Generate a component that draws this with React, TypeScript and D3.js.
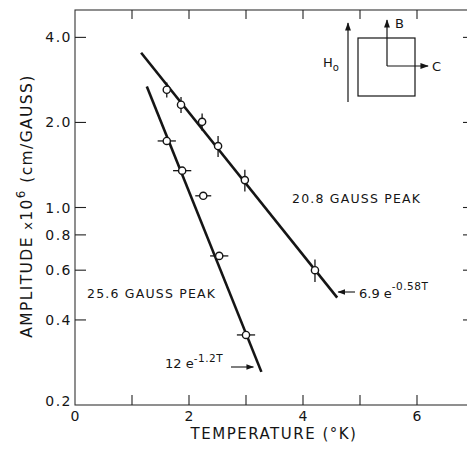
import React from 'react'
import * as d3 from 'd3'

// 20.8 gauss peak: temperature (K), amplitude, vertical error
const peak208T = [1.61, 1.86, 2.23, 2.51, 2.98, 4.21]
const peak208Amp = [2.61, 2.31, 2.01, 1.65, 1.25, 0.60]
const peak208Err = [0.16, 0.15, 0.14, 0.14, 0.11, 0.055]

// 25.6 gauss peak: temperature (K), amplitude, horizontal error (K)
const peak256T = [1.61, 1.88, 2.25, 2.53, 3.0]
const peak256Amp = [1.72, 1.35, 1.10, 0.674, 0.354]
const peak256ErrT = [0.16, 0.16, 0.14, 0.16, 0.16]

// drawn fit lines (end points)
const fit208 = [{t: 1.16, a: 3.53}, {t: 4.6, a: 0.48}]
const fit256 = [{t: 1.26, a: 2.68}, {t: 3.27, a: 0.262}]

const xTicks = [0, 2, 4, 6]
const xMinorTicks = [1, 2, 3, 4, 5, 6]
const yTicks = [4.0, 2.0, 1.0, 0.8, 0.6, 0.4]
const yTickLabels = ['4.0', '2.0', '1.0', '0.8', '0.6', '0.4', '0.2']
const yLabelValues = [4.0, 2.0, 1.0, 0.8, 0.6, 0.4, 0.2]

const layout = {width: 467, height: 449, left: 75, right: 474, top: 10, bottom: 405}
const ink = '#151515'
const font = 'DejaVu Sans, Liberation Sans, sans-serif'

export default function App() {
  const x = d3.scaleLinear().domain([0, 7]).range([layout.left, layout.right])
  const y = d3.scaleLog().domain([0.2, 5.0]).range([layout.bottom, layout.top])

  const fitLine = d3.line<{t: number, a: number}>().x(d => x(d.t)).y(d => y(d.a))

  const r = 3.6

  return (
    <svg width={layout.width} height={layout.height}
      style={{position: 'absolute', left: 0, top: 0, background: '#fff'}}
      fontFamily={font} fill={ink}>
      {/* frame */}
      <rect x={layout.left} y={layout.top} width={layout.right - layout.left}
        height={layout.bottom - layout.top} fill="none" stroke="#333" strokeWidth={1.1} />

      {/* x ticks, bottom and top */}
      {xMinorTicks.map(t => (
        <g key={'xt' + t} stroke="#222" strokeWidth={1.1}>
          <line x1={x(t)} x2={x(t)} y1={layout.bottom} y2={layout.bottom - 10} />
          <line x1={x(t)} x2={x(t)} y1={layout.top} y2={layout.top + 9} />
        </g>
      ))}
      {xTicks.map(t => (
        <text key={'xl' + t} x={x(t)} y={layout.bottom + 16} fontSize={14}
          textAnchor="middle">{t}</text>
      ))}

      {/* y ticks, left and right */}
      {yTicks.map(v => (
        <g key={'yt' + v} stroke="#222" strokeWidth={1.1}>
          <line x1={layout.left} x2={layout.left + 11} y1={y(v)} y2={y(v)} />
          <line x1={layout.right} x2={layout.right - 11} y1={y(v)} y2={y(v)} />
        </g>
      ))}
      {yLabelValues.map((v, i) => (
        <text key={'yl' + v} x={layout.left - 3} y={y(v) - (i === 6 ? 4 : 0)} dy="0.36em"
          fontSize={14} textAnchor="end" letterSpacing={1.5}>{yTickLabels[i]}</text>
      ))}

      {/* axis titles */}
      <text x={274} y={439} fontSize={15} textAnchor="middle" letterSpacing={1.5}>
        TEMPERATURE (°K)
      </text>
      <text transform="translate(32,206) rotate(-90)" fontSize={15.5} textAnchor="middle"
        letterSpacing={1.4}>
        AMPLITUDE <tspan fontSize={13}>x</tspan>10<tspan dy={-7} fontSize={12}>6</tspan>
        <tspan dy={7}> (cm/GAUSS)</tspan>
      </text>

      {/* fit lines */}
      <path d={fitLine(fit208) || ''} fill="none" stroke={ink} strokeWidth={2.6} />
      <path d={fitLine(fit256) || ''} fill="none" stroke={ink} strokeWidth={2.6} />

      {/* 20.8 gauss points with vertical error bars */}
      {peak208T.map((t, i) => (
        <g key={'p1' + i}>
          <line x1={x(t)} x2={x(t)} y1={y(peak208Amp[i] + peak208Err[i])}
            y2={y(peak208Amp[i] - peak208Err[i])} stroke={ink} strokeWidth={1.3} />
          <circle cx={x(t)} cy={y(peak208Amp[i])} r={r} fill="#fff" stroke={ink} strokeWidth={1.4} />
        </g>
      ))}

      {/* 25.6 gauss points with horizontal error bars */}
      {peak256T.map((t, i) => (
        <g key={'p2' + i}>
          <line x1={x(t - peak256ErrT[i])} x2={x(t + peak256ErrT[i])} y1={y(peak256Amp[i])}
            y2={y(peak256Amp[i])} stroke={ink} strokeWidth={1.3} />
          <circle cx={x(t)} cy={y(peak256Amp[i])} r={r} fill="#fff" stroke={ink} strokeWidth={1.4} />
        </g>
      ))}

      {/* annotations */}
      <text x={292} y={203} fontSize={12.5} letterSpacing={1.2}>20.8 GAUSS  PEAK</text>
      <text x={87} y={298} fontSize={12.5} letterSpacing={1.2}>25.6 GAUSS  PEAK</text>

      <defs>
        <marker id="ah" viewBox="0 0 10 10" refX="9" refY="5" markerWidth="7" markerHeight="7"
          orient="auto-start-reverse">
          <path d="M0,1.5 L10,5 L0,8.5 z" fill={ink} />
        </marker>
      </defs>

      <line x1={355} x2={x(fit208[1].t) + 1} y1={292} y2={292} stroke={ink} strokeWidth={1.1}
        markerEnd="url(#ah)" />
      <text x={359} y={298} fontSize={13}>6.9 e<tspan dy={-8} fontSize={10.5} letterSpacing={0.5}>-0.58T</tspan></text>

      <line x1={231} x2={x(fit256[1].t) - 8} y1={367} y2={367} stroke={ink} strokeWidth={1.1}
        markerEnd="url(#ah)" />
      <text x={165} y={368} fontSize={13}>12 e<tspan dy={-6} fontSize={10.5} letterSpacing={0.5}>-1.2T</tspan></text>

      {/* inset: field and crystal axes */}
      <g stroke={ink} strokeWidth={1.2} fill="none">
        <rect x={358} y={38} width={57} height={58} />
        <line x1={348} x2={348} y1={102} y2={23} markerEnd="url(#ah)" />
        <line x1={387} x2={387} y1={66} y2={20} markerEnd="url(#ah)" />
        <line x1={387} x2={428} y1={66} y2={66} markerEnd="url(#ah)" />
      </g>
      <text x={395} y={28} fontSize={13}>B</text>
      <text x={432} y={71} fontSize={13}>C</text>
      <text x={323} y={67} fontSize={13}>H<tspan dy={4} fontSize={10}>o</tspan></text>
    </svg>
  )
}
